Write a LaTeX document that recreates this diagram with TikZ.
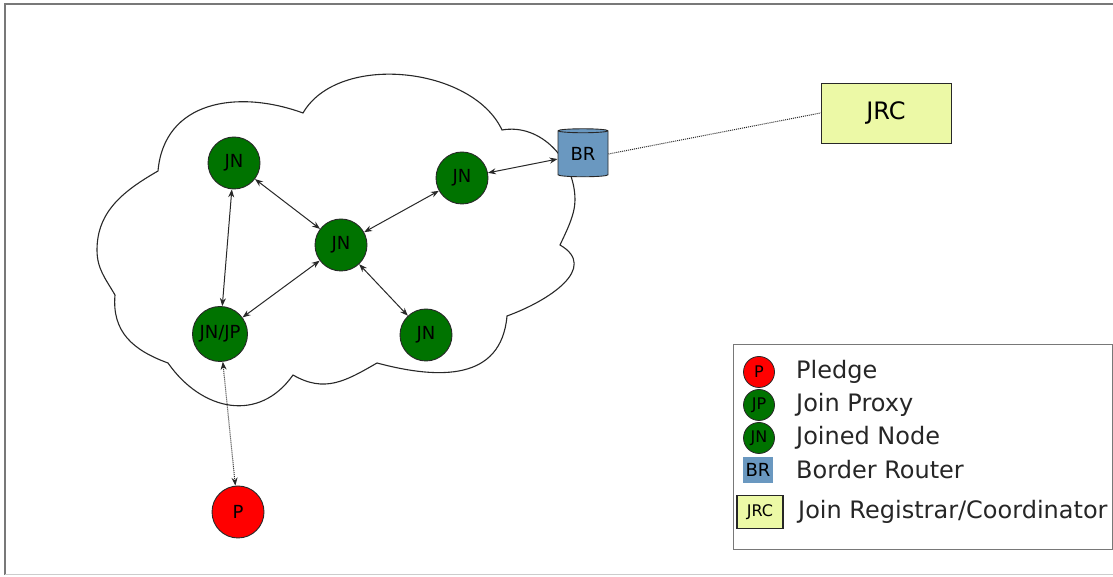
\documentclass[tikz,border=0pt]{standalone}
\usepackage{fontspec}
\setmainfont{DejaVu Sans}
\usetikzlibrary{arrows.meta,shapes.geometric}
\definecolor{nodegreen}{RGB}{0,115,0}
\definecolor{pledgered}{RGB}{255,0,0}
\definecolor{brblue}{RGB}{106,152,192}
\definecolor{jrcyellow}{RGB}{236,249,166}
\definecolor{linegray}{RGB}{40,40,40}
\definecolor{framegray}{RGB}{120,120,120}
\tikzset{
  netnode/.style={circle, draw=linegray, line width=0.9pt, fill=nodegreen,
    minimum size=52pt, inner sep=0pt, font=\fontsize{18}{21}\selectfont},
  pledgenode/.style={netnode, fill=pledgered},
  router/.style={cylinder, shape border rotate=90, aspect=0.16, draw=linegray,
    line width=0.9pt, fill=brblue, minimum width=50pt, minimum height=48pt,
    inner sep=0pt, font=\fontsize{18}{21}\selectfont},
  registrar/.style={rectangle, draw=linegray, line width=0.9pt, fill=jrcyellow,
    minimum width=130pt, minimum height=60pt, font=\fontsize{24}{28}\selectfont},
  link/.style={draw=linegray, line width=1pt,
    {Stealth[length=8pt,width=6pt]}-{Stealth[length=8pt,width=6pt]}},
  joinlink/.style={link, densely dotted},
  uplink/.style={draw=linegray, line width=1pt, densely dotted},
  cloudline/.style={draw=linegray, line width=1.1pt},
  legicon/.style={circle, draw=linegray, line width=0.8pt, fill=nodegreen,
    minimum size=31pt, inner sep=0pt, font=\fontsize{16}{18}\selectfont},
  legtext/.style={anchor=west, inner sep=0pt, text=black!85,
    font=\fontsize{24}{28}\selectfont},
}
\begin{document}
\begin{tikzpicture}[x=1pt,y=1pt]
\useasboundingbox (0,0) rectangle (1113,577);
\fill[white] (0,0) rectangle (1113,577);
% outer frame
\draw[framegray, line width=1.6pt] (1120,573) -- (5,573) -- (5,2);
\draw[black!20, line width=1pt] (5,2) -- (1120,2);

% network cloud: cusps between the puffs
\coordinate (c1) at (158,406);
\coordinate (c2) at (303,464);
\coordinate (c3) at (502,447);
\coordinate (c4) at (560,332);
\coordinate (c5) at (507,261);
\coordinate (c6) at (377,214);
\coordinate (c7) at (293,202);
\coordinate (c8) at (168,214);
\coordinate (c9) at (115,282);
% outermost points of the right and left puffs
\coordinate (rp) at (575,377);
\coordinate (lp) at (97,327);
\draw[cloudline, fill=white]
  (c1) to[out=85,in=160,looseness=1.15] (c2)
       to[out=60,in=115,looseness=0.9] (c3)
       to[out=10,in=90,looseness=1.0] (rp)
       to[out=-90,in=65,looseness=0.8] (c4)
       to[out=-30,in=20,looseness=1.3] (c5)
       to[out=-95,in=-15,looseness=1.2] (c6)
       to[out=-150,in=-30,looseness=1.1] (c7)
       to[out=-125,in=-55,looseness=1.2] (c8)
       to[out=160,in=-95,looseness=1.1] (c9)
       to[out=120,in=-90,looseness=1.0] (lp)
       to[out=90,in=-150,looseness=1.0] (c1) -- cycle;

% nodes
\node[netnode] (jn1) at (234,414) {JN};
\node[netnode] (jn2) at (462,399) {JN};
\node[netnode] (jn3) at (341,332) {JN};
\node[netnode, minimum size=55pt] (jp) at (220,243) {JN/JP};
\node[netnode] (jn4) at (426,242) {JN};
\node[pledgenode] (p) at (238,65) {P};
\node[router] (br) at (583,423) {BR};
\node[registrar] (jrc) at (886,464) {JRC};

% links
\draw[link] (jn1) -- (jn3);
\draw[link] (jn1) -- (jp);
\draw[link] (jn3) -- (jn2);
\draw[link] (jn3) -- (jp);
\draw[link] (jn3) -- (jn4);
\draw[link] (jn2) -- (br);
\draw[joinlink] (jp) -- (p);
\draw[uplink] (br.east) -- (jrc.west);

% legend
\node[draw=framegray, line width=1.2pt, fill=white, minimum width=379pt,
  minimum height=205pt, anchor=south west] (legend) at (733,27) {};
\node[legicon, fill=pledgered] (lgp) at (759,205) {P};
\node[legicon] (ljp) at (759,172) {JP};
\node[legicon] (ljn) at (759,139) {JN};
\node[rectangle, fill=brblue, minimum width=30pt, minimum height=26pt,
  inner sep=0pt, font=\fontsize{18}{20}\selectfont] (lbr) at (758,107) {BR};
\node[rectangle, draw=black!85, line width=1.6pt, fill=jrcyellow,
  minimum width=46pt, minimum height=33pt, inner sep=0pt,
  font=\fontsize{16}{18}\selectfont] (ljrc) at (760,65) {JRC};
\node[legtext] (tp) at (796,205) {Pledge};
\node[legtext] (tjp) at (796,172) {Join Proxy};
\node[legtext] (tjn) at (796,139) {Joined Node};
\node[legtext] (tbr) at (796,107) {Border Router};
\node[legtext] (tjrc) at (798,65) {Join Registrar/Coordinator};
\end{tikzpicture}
\end{document}
